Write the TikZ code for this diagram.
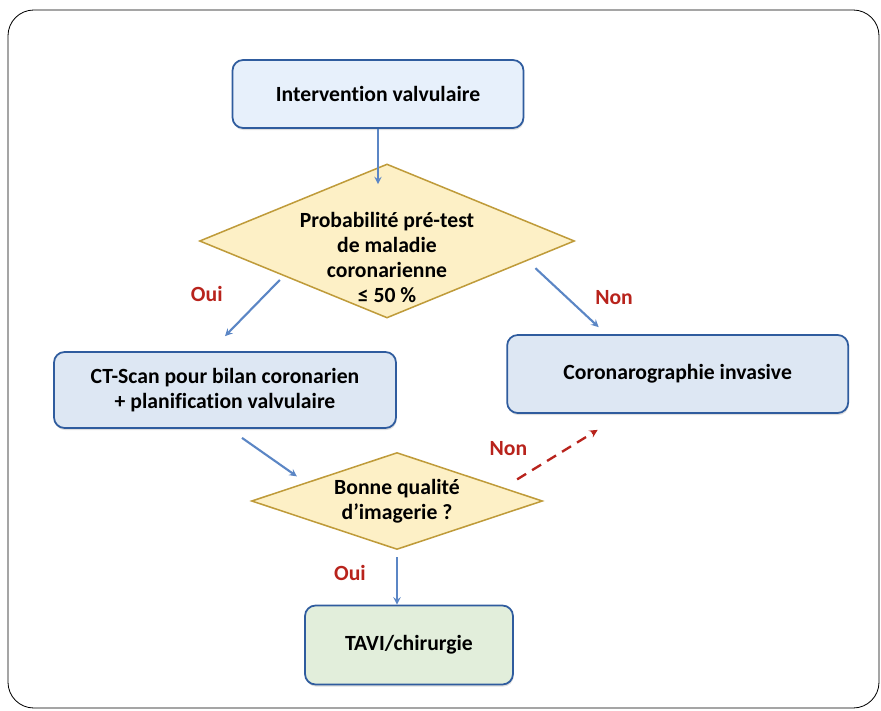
\documentclass[tikz,border=0pt]{standalone}
\usepackage{fontspec}
\setmainfont{Carlito}[Ligatures=NoCommon]
\usepackage{tikz}
\usetikzlibrary{shapes.misc, positioning, shapes.geometric, arrows}
\usetikzlibrary{shadows}
\definecolor{boxblue}{HTML}{2F5C9E}
\definecolor{lightblue}{HTML}{E7F0FB}
\definecolor{paleblue}{HTML}{DDE7F3}
\definecolor{palegreen}{HTML}{E2EEDB}
\definecolor{paleyellow}{HTML}{FDF0C6}
\definecolor{gold}{HTML}{BF9B3A}
\definecolor{arrowblue}{HTML}{5B86C5}
\definecolor{darkred}{HTML}{B8231C}
\tikzstyle{stepbox} = [rectangle, rounded corners=9pt, text centered, draw=boxblue, line width=1.5pt, align=center, font=\fontsize{18.5}{21.5}\selectfont\bfseries, drop shadow={opacity=0.25, shadow xshift=0.6pt, shadow yshift=-1.8pt}]
\tikzstyle{decision} = [diamond, aspect=2.4, draw=gold, line width=1.3pt, fill=paleyellow, inner sep=-5mm, align=center, font=\fontsize{18.5}{21.5}\selectfont\bfseries]
\tikzstyle{arrow} = [line width=1.8pt, draw=arrowblue, ->, >=stealth]
\tikzstyle{redarrow} = [line width=2pt, draw=darkred, dash pattern=on 9pt off 6pt, ->, >=stealth]
\tikzstyle{answer} = [text=darkred, font=\fontsize{18.5}{21.5}\selectfont\bfseries]

\begin{document}
\begin{tikzpicture}[node distance=4.41cm]
\useasboundingbox (0,0) rectangle (26.43,-21.33);
\draw [rounded corners=22pt, line width=0.7pt] (0.24,-0.30) rectangle (26.37,-21.24);

\node (start) [stepbox, fill=lightblue, minimum width=8.73cm, minimum height=2.04cm] at (11.34,-2.82) {Intervention valvulaire};
% text sits a little low in the diamond
\node (risk) [decision, below of=start, minimum width=11.25cm, minimum height=4.62cm, xshift=0.27cm] {\rule{0pt}{1.45cm}Probabilité pré-test\\de maladie\\coronarienne\\≤ 50 \%};
\node (ctscan) [stepbox, fill=paleblue, below of=risk, minimum width=10.26cm, minimum height=2.28cm, xshift=-4.86cm, yshift=-0.06cm] {CT-Scan pour bilan coronarien\\+ planification valvulaire};
\node (coro) [stepbox, fill=paleblue, below of=risk, minimum width=10.23cm, minimum height=2.34cm, xshift=8.72cm, yshift=0.42cm] {Coronarographie invasive};
\node (quality) [decision, below of=ctscan, minimum width=8.73cm, minimum height=2.91cm, xshift=5.16cm, yshift=1.08cm] {Bonne qualité\\d’imagerie ?};
\node (tavi) [stepbox, fill=palegreen, below of=quality, minimum width=6.24cm, minimum height=2.37cm, xshift=0.36cm, yshift=0.09cm] {TAVI/chirurgie};

\draw [arrow, shorten >=-0.63cm] (start.south) -- (start.south |- risk.north);
\draw [arrow] ([xshift=-0.39cm]risk.south west) -- node (oui1) [answer, xshift=-1.37cm, yshift=0.42cm] {Oui} ([yshift=0.45cm]ctscan.north);
\draw [arrow] ([xshift=1.63cm, yshift=0.35cm]risk.south east) -- node (non1) [answer, xshift=1.41cm, yshift=0.0cm] {Non} ([xshift=-2.37cm, yshift=0.21cm]coro.north);
\draw [arrow] ([xshift=0.51cm, yshift=-0.27cm]ctscan.south) -- ([xshift=-0.81cm]quality.north west);
\draw [redarrow] ([xshift=1.41cm, yshift=-0.09cm]quality.north east) -- node (non2) [answer, xshift=-1.47cm, yshift=0.18cm] {Non} ([xshift=-2.4cm, yshift=-0.48cm]coro.south);
\draw [arrow] ([yshift=-0.21cm]quality.south) -- node (oui2) [answer, xshift=-1.41cm, yshift=0.24cm] {Oui} (quality.south |- tavi.north);

\end{tikzpicture}
\end{document}
